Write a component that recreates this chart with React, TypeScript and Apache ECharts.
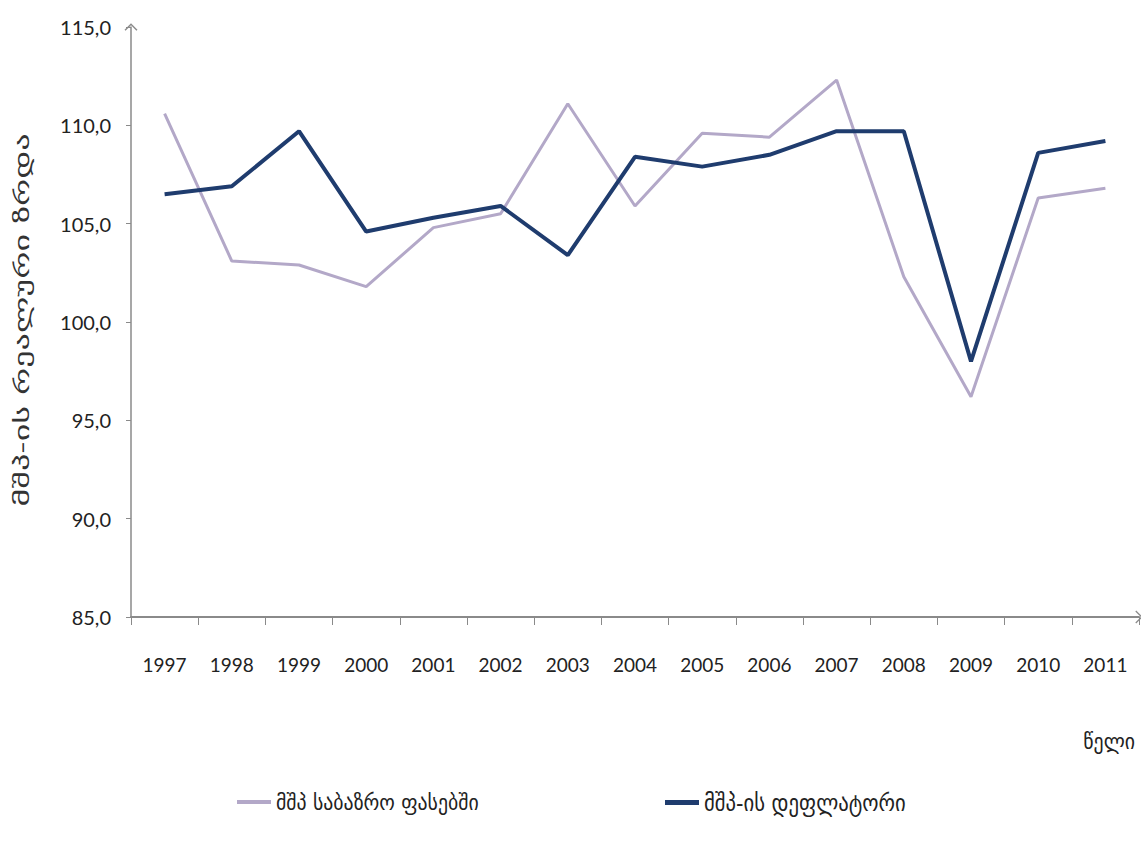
import React, { useEffect, useRef } from "react";
import * as echarts from "echarts";

const years = ["1997", "1998", "1999", "2000", "2001", "2002", "2003", "2004", "2005", "2006", "2007", "2008", "2009", "2010", "2011"];
const gdpMarketPrices = [110.6, 103.1, 102.9, 101.8, 104.8, 105.5, 111.1, 105.9, 109.6, 109.4, 112.3, 102.3, 96.2, 106.3, 106.8];
const gdpDeflator = [106.5, 106.9, 109.7, 104.6, 105.3, 105.9, 103.4, 108.4, 107.9, 108.5, 109.7, 109.7, 98.0, 108.6, 109.2];
const seriesNames = ["მშპ საბაზრო ფასებში", "მშპ-ის დეფლატორი"];
const yAxisName = "მშპ-ის რეალური ზრდა";
const xAxisName = "წელი";
const yMin = 85;
const yMax = 115;
const yStep = 5;

const LIGHT = "#b3a8c8";
const DARK = "#1f3c6e";
const AXIS = "#8a8a8a";
const GEO_FONT = "'DejaVu Sans Condensed', 'DejaVu Sans', sans-serif";
const NUM_FONT = "Lato, 'DejaVu Sans', sans-serif";

const chevron = "path://M0,10L10,0L20,10L18.4,11.3L10,2.8L1.6,11.3Z";

export default function App() {
  const ref = useRef<HTMLDivElement>(null);
  useEffect(() => {
    if (!ref.current) return;
    const chart = echarts.init(ref.current, null, { renderer: "svg" });
    chart.setOption({
      animation: false,
      backgroundColor: "#ffffff",
      grid: { left: 131, top: 27, width: 1008, bottom: 231, containLabel: false },
      legend: [
        {
          data: [{ name: seriesNames[0], itemStyle: { color: LIGHT } }],
          left: 232,
          top: 786,
          icon: "rect",
          itemWidth: 34,
          itemHeight: 4,
          itemGap: 4,
          textStyle: { fontFamily: GEO_FONT, fontSize: 22, color: "#222" },
        },
        {
          data: [{ name: seriesNames[1], itemStyle: { color: DARK } }],
          left: 660,
          top: 786,
          icon: "rect",
          itemWidth: 34,
          itemHeight: 5,
          itemGap: 4,
          textStyle: { fontFamily: GEO_FONT, fontSize: 23, color: "#222" },
        },
      ],
      xAxis: {
        type: "category",
        data: years,
        boundaryGap: true,
        axisLine: {
          show: true,
          symbol: ["none", chevron],
          symbolSize: [13, 16],
          lineStyle: { color: AXIS, width: 2 },
        },
        axisTick: { show: true, length: 8, lineStyle: { color: AXIS, width: 1 } },
        axisLabel: { margin: 38, fontFamily: NUM_FONT, fontSize: 19, color: "#222" },
        splitLine: { show: false },
      },
      yAxis: {
        type: "value",
        min: yMin,
        max: yMax,
        interval: yStep,
        axisLine: {
          show: true,
          symbol: ["none", chevron],
          symbolSize: [13, 16],
          lineStyle: { color: AXIS, width: 1.5 },
        },
        axisTick: { show: true, length: 5, lineStyle: { color: AXIS } },
        axisLabel: {
          margin: 20,
          fontFamily: NUM_FONT,
          fontSize: 20,
          color: "#222",
          formatter: (v: number) => v.toFixed(1).replace(".", ","),
        },
        splitLine: { show: false },
      },
      graphic: [
        {
          type: "text",
          x: 22,
          y: 320,
          rotation: Math.PI / 2,
          scaleX: 2.0,
          style: {
            text: yAxisName,
            fontFamily: GEO_FONT,
            fontSize: 19,
            fill: "#333",
            align: "center",
            verticalAlign: "middle",
          },
        },
        {
          type: "text",
          right: 6,
          top: 730,
          style: { text: xAxisName, fontFamily: GEO_FONT, fontSize: 22, fill: "#222" },
        },
      ],
      series: [
        {
          name: seriesNames[0],
          type: "line",
          data: gdpMarketPrices,
          showSymbol: false,
          symbol: "none",
          lineStyle: { color: LIGHT, width: 3 },
          itemStyle: { color: LIGHT },
          z: 2,
        },
        {
          name: seriesNames[1],
          type: "line",
          data: gdpDeflator,
          showSymbol: false,
          symbol: "none",
          lineStyle: { color: DARK, width: 4 },
          itemStyle: { color: DARK },
          z: 3,
        },
      ],
    });
    return () => chart.dispose();
  }, []);
  return (
    <div
      ref={ref}
      style={{ position: "absolute", left: 0, top: 0, width: 1141, height: 848, background: "#fff" }}
    />
  );
}
